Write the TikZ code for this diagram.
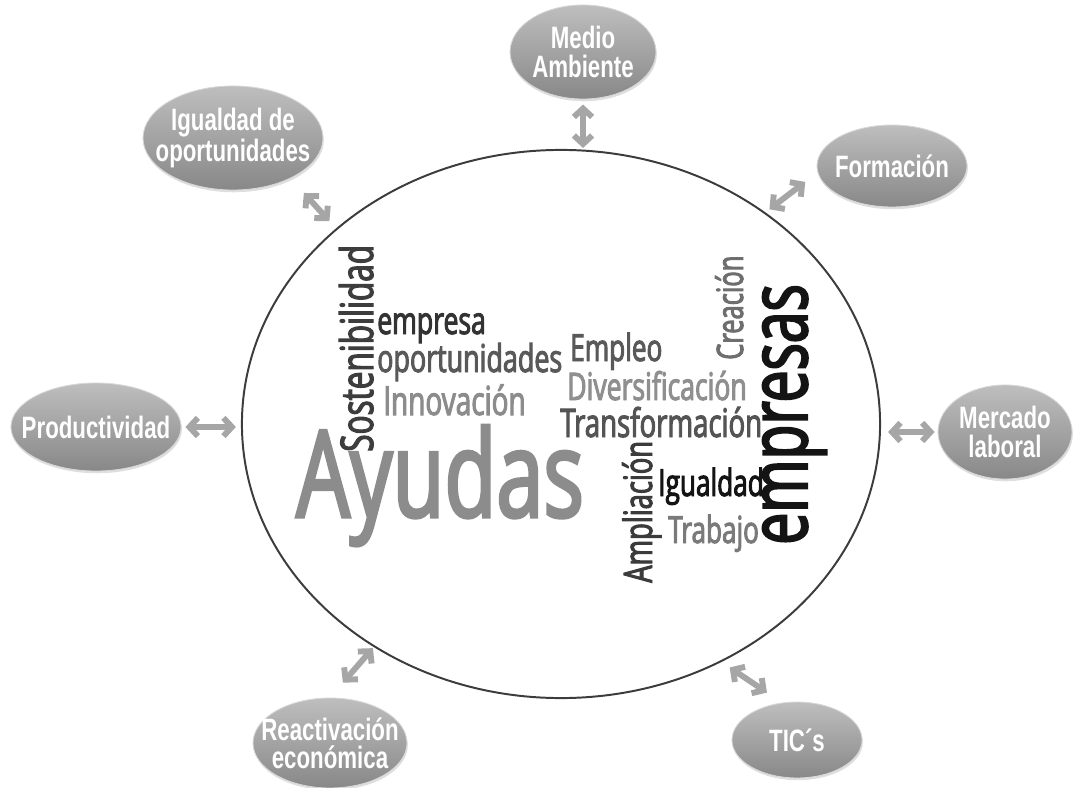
\documentclass[tikz,border=0pt]{standalone}
\usepackage{fontspec}
\usetikzlibrary{shapes.geometric,arrows.meta,shadows}
\newfontfamily\satfont[FakeStretch=0.72]{Liberation Sans}
\newfontfamily\cloudfont[FakeStretch=0.7,FakeBold=2.5]{Open Sans}
\newcommand\cloudsize[1]{\cloudfont\fontsize{#1}{#1}\selectfont}
\definecolor{linkgray}{HTML}{A6A6A6}
\definecolor{ringgray}{HTML}{3C3C3C}
\definecolor{satlight}{HTML}{BEBEBE}
\definecolor{satdark}{HTML}{888888}
\definecolor{satrim}{HTML}{D8D8D8}
\begin{document}
\begin{tikzpicture}[x=0.025cm,y=-0.025cm]
\tikzset{topic/.style={ellipse, top color=satlight, bottom color=satdark, draw=satrim, line width=0.6pt, drop shadow={opacity=0.25, shadow xshift=0.6pt, shadow yshift=-1.6pt}}}
\tikzset{topictext/.style={text=white, font=\satfont\bfseries\fontsize{22}{20}\selectfont, align=center}}
\tikzset{link/.style={draw=linkgray, line width=4.2pt, arrows={Straight Barb[length=6pt,width=13pt]-Straight Barb[length=6pt,width=13pt]}}}
\tikzset{word/.style={inner sep=0pt, anchor=base west}}

\useasboundingbox (0,0) rectangle (1073,788);

% Central ring
\node[draw=ringgray, line width=1.4pt, ellipse, minimum width=453.8pt, minimum height=389.8pt] (cloud) at (561,424) {};

% Topics around the ring
\node[topic, minimum width=103.8pt, minimum height=66.9pt, label={[topictext]center:Medio\\Ambiente}] (medio) at (583,52) {};
\node[topic, minimum width=128pt, minimum height=74pt, label={[topictext]center:Igualdad de\\oportunidades}] (igualdad) at (233,138) {};
\node[topic, minimum width=106.7pt, minimum height=58.3pt, label={[topictext]center:Formación}] (formacion) at (892,166) {};
\node[topic, minimum width=121pt, minimum height=62.6pt, label={[topictext]center:Productividad}] (productividad) at (96,427) {};
\node[topic, minimum width=95.3pt, minimum height=66.9pt, label={[topictext]center:Mercado\\laboral}] (mercado) at (1005,432) {};
\node[topic, minimum width=109.5pt, minimum height=64pt, label={[topictext]center:Reactivación\\económica}] (reactivacion) at (330,743) {};
\node[topic, minimum width=92.5pt, minimum height=54pt, label={[topictext]center:TIC´s}] (tics) at (797,740) {};

% Links
\draw[link, shorten <=3.6pt, shorten >=0.7pt] (medio.south) -- (medio.south |- cloud.north);
\draw[link, shorten <=14pt, shorten >=7pt] (igualdad.-35) -- (cloud.139);
\draw[link, shorten <=11pt, shorten >=3.6pt] (formacion.185) -- (cloud.46);
\draw[link, shorten <=2.8pt, shorten >=3.6pt] (productividad.east) -- (productividad.east -| cloud.west);
\draw[link, shorten <=2.1pt, shorten >=5pt] (mercado.west) -- (mercado.west -| cloud.east);
\draw[link, shorten <=14pt, shorten >=1pt] (reactivacion.north) -- (cloud.230);
\draw[link, shorten <=12.8pt, shorten >=7pt] (tics.112) -- (cloud.304);

% Word cloud
\node[word, rotate=90, font=\cloudsize{32}, text=black!76] (wSostenibilidad) at (373,452) {Sostenibilidad};
\node[word, font=\cloudsize{27}, text=black!80] (wEmpresa) at (377,334) {empresa};
\node[word, font=\cloudsize{27.3}, text=black!65] (wOportunidades) at (377,372) {oportunidades};
\node[word, font=\cloudsize{28.4}, text=black!45] (wInnovacion) at (383,415) {Innovación};
\node[word, font=\cloudsize{26.6}, text=black!65] (wEmpleo) at (570,361) {Empleo};
\node[word, font=\cloudsize{27}, text=black!44] (wDiversificacion) at (567,400) {Diversificación};
\node[word, font=\cloudsize{28}, text=black!67] (wTransformacion) at (560,437) {Transformación};
\node[word, rotate=90, font=\cloudsize{25.9}, text=black!57] (wCreacion) at (743,360) {Creación};
\node[word, rotate=90, font=\cloudsize{58}, text=black!92] (wEmpresas) at (807,545) {empresas};
\node[word, font=\cloudsize{86}, text=black!45] (wAyudas) at (296,517) {Ayudas};
\node[word, rotate=90, font=\cloudsize{27.8}, text=black!77] (wAmpliacion) at (652,583) {Ampliación};
\node[word, font=\cloudsize{26.6}, text=black!92] (wIgualdad) at (658,496) {Igualdad};
\node[word, font=\cloudsize{26.5}, text=black!52] (wTrabajo) at (668,543) {Trabajo};
\end{tikzpicture}
\end{document}
